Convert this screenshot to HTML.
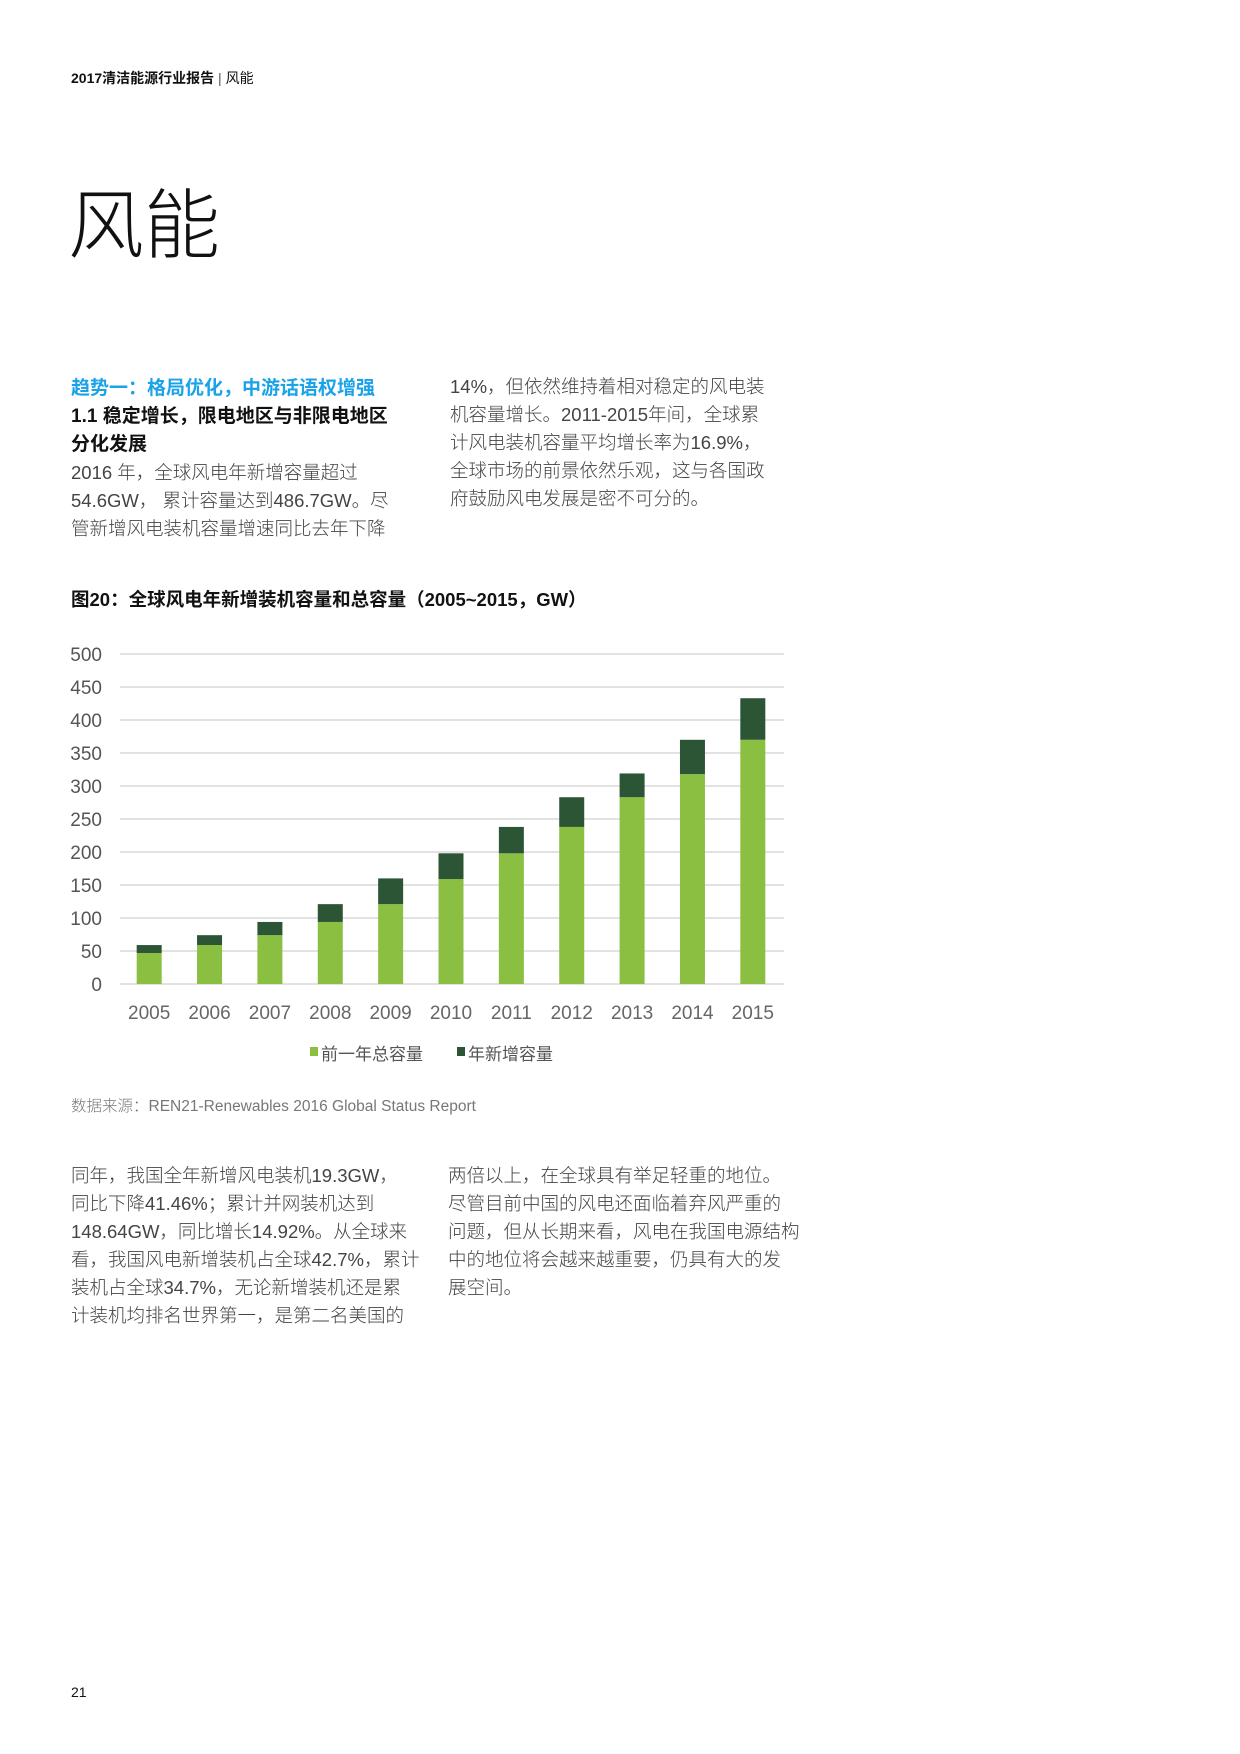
<!DOCTYPE html>
<html><head><meta charset="utf-8">
<style>
html,body{margin:0;padding:0;background:#fff;}
body{width:1240px;height:1754px;position:relative;overflow:hidden;font-family:"Liberation Sans","Noto Sans CJK SC",sans-serif;color:#333;}
.abs{position:absolute;white-space:nowrap;}
.body{font-size:18.5px;line-height:28px;color:#444;font-weight:300;}
</style></head>
<body>
<div class="abs" style="left:71px;top:68px;font-size:14px;color:#111;"><b>2017清洁能源行业报告</b> <span style="color:#555">|</span> 风能</div>
<div class="abs" style="left:68px;top:182px;font-size:76px;font-weight:300;color:#111;line-height:90px;">风能</div>

<div class="abs" style="left:71px;top:375px;font-size:19px;font-weight:bold;color:#1aa3e8;line-height:28px;">趋势一：格局优化，中游话语权增强</div>
<div class="abs" style="left:71px;top:403px;font-size:19px;font-weight:bold;color:#111;line-height:28px;">1.1 稳定增长，限电地区与非限电地区<br>分化发展</div>
<div class="abs body" style="left:71px;top:459px;">2016 年，全球风电年新增容量超过<br>54.6GW，&nbsp;累计容量达到486.7GW。尽<br>管新增风电装机容量增速同比去年下降</div>
<div class="abs body" style="left:450px;top:373px;">14%，但依然维持着相对稳定的风电装<br>机容量增长。2011-2015年间，全球累<br>计风电装机容量平均增长率为16.9%，<br>全球市场的前景依然乐观，这与各国政<br>府鼓励风电发展是密不可分的。</div>

<div class="abs" style="left:71px;top:586px;font-size:18.5px;font-weight:bold;color:#111;">图20：全球风电年新增装机容量和总容量（2005~2015，GW）</div>

<svg class="abs" style="left:0;top:620px" width="820" height="460" id="chart"></svg>

<div class="abs" style="left:71px;top:1094px;font-size:15.5px;color:#777;font-weight:300;">数据来源：REN21-Renewables 2016 Global Status Report</div>

<div class="abs body" style="left:71px;top:1162px;">同年，我国全年新增风电装机19.3GW，<br>同比下降41.46%；累计并网装机达到<br>148.64GW，同比增长14.92%。从全球来<br>看，我国风电新增装机占全球42.7%，累计<br>装机占全球34.7%，无论新增装机还是累<br>计装机均排名世界第一，是第二名美国的</div>
<div class="abs body" style="left:448px;top:1162px;">两倍以上，在全球具有举足轻重的地位。<br>尽管目前中国的风电还面临着弃风严重的<br>问题，但从长期来看，风电在我国电源结构<br>中的地位将会越来越重要，仍具有大的发<br>展空间。</div>

<div class="abs" style="left:71px;top:1684px;font-size:14px;color:#111;">21</div>

<script>
const categories=["2005","2006","2007","2008","2009","2010","2011","2012","2013","2014","2015"];
const prevTotal=[47,59,74,94,121,159,198,238,283,318,370];
const newAdded=[12,15,20,27,39,39,40,45,36,52,63];
const yTicks=[0,50,100,150,200,250,300,350,400,450,500];
const legendLabels=["前一年总容量","年新增容量"];
const NS="http://www.w3.org/2000/svg";
const svg=document.getElementById('chart');
const top0=620, plotTop=654-top0, plotBot=984-top0, left=120, right=784, yMax=500;
const y=v=>plotBot-(v/yMax)*(plotBot-plotTop);
const step=(right-left)/categories.length;
const x=i=>left+step*(i+0.5)-1;
function mk(t,a){const e=document.createElementNS(NS,t);for(const k in a)e.setAttribute(k,a[k]);svg.appendChild(e);return e;}
yTicks.forEach(v=>{
  const l=mk('line',{x1:left,x2:right,y1:y(v),y2:y(v),stroke:'#d9d9d9','stroke-width':1.5});
  
  
  const t=mk('text',{x:102,y:y(v)+7,'text-anchor':'end','font-size':19,fill:'#555','font-family':'Liberation Sans, sans-serif'});
  t.textContent=v;
  
  
});
const bw=25;
categories.forEach((c,i)=>{
  const b1=mk('rect',{x:x(i)-bw/2,y:y(prevTotal[i]),width:bw,height:y(0)-y(prevTotal[i]),fill:'#8abf42'});
  
  
  const tot=prevTotal[i]+newAdded[i];
  const b2=mk('rect',{x:x(i)-bw/2,y:y(tot),width:bw,height:y(prevTotal[i])-y(tot),fill:'#2c5535'});
  
  
  const t=mk('text',{x:x(i),y:1019-top0,'text-anchor':'middle','font-size':19,fill:'#666','font-family':'Liberation Sans, sans-serif'});
  t.textContent=c;
  
  
});
const lg=[[310,'#8abf42'],[457,'#2c5535']];
legendLabels.forEach((lab,i)=>{
  const r=mk('rect',{x:lg[i][0],y:1047-top0,width:8,height:9,fill:lg[i][1]});
  
  
  const t=mk('text',{x:lg[i][0]+11,y:1060-top0,'font-size':17,fill:'#555','font-family':'Liberation Sans, Noto Sans CJK SC, sans-serif'});
  t.textContent=lab;
  
  
});
</script>
</body></html>
